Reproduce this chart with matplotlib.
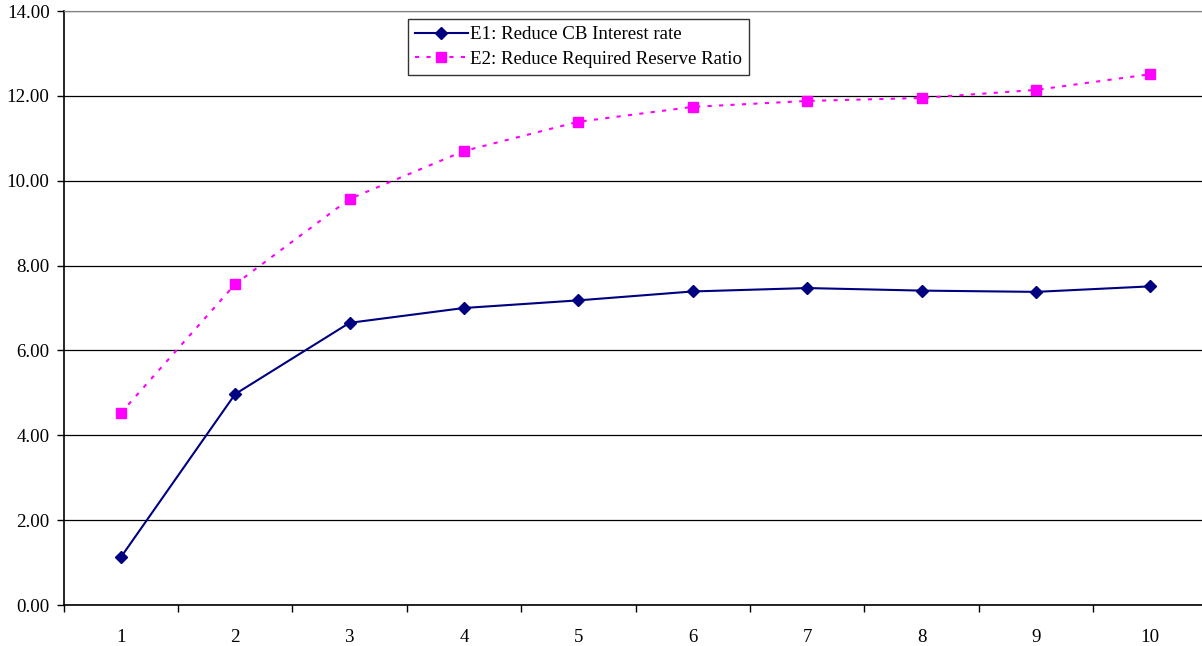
import matplotlib.pyplot as plt
import numpy as np

plt.rcParams['font.family'] = ['Liberation Serif', 'DejaVu Serif']

# Data
periods = [1, 2, 3, 4, 5, 6, 7, 8, 9, 10]
e1_values = [1.12, 4.97, 6.65, 7.00, 7.18, 7.39, 7.47, 7.41, 7.38, 7.51]
e2_values = [4.52, 7.56, 9.57, 10.70, 11.39, 11.74, 11.88, 11.95, 12.14, 12.51]
e1_label = 'E1: Reduce CB Interest rate'
e2_label = 'E2: Reduce Required Reserve Ratio'

fs = 13.6

fig = plt.figure(figsize=(12.02, 6.46), dpi=100)
# plot area runs a little past the right edge of the canvas
ax = fig.add_axes([63.5 / 1202, 1 - 605 / 646, 1144 / 1202, 594 / 646])

ax.plot(periods, e1_values, color='#000080', lw=1.5, marker='D', ms=6.5,
        label=e1_label, zorder=3)
ax.plot(periods, e2_values, color='#FF00FF', lw=1.5, ls=(0, (2, 3.5)),
        marker='s', ms=7.5, label=e2_label, zorder=3)

ax.set_xlim(0.5, 10.5)
ax.set_ylim(0, 14)
ax.set_yticks(np.arange(0, 14.1, 2))
ax.set_yticklabels([f'{v:.2f}' for v in np.arange(0, 14.1, 2)], fontsize=fs)
ax.set_xticks(periods)
ax.set_xticklabels([str(p) for p in periods], fontsize=fs)
ax.set_xticks(np.arange(0.5, 10.6, 1), minor=True)
ax.tick_params(axis='x', which='major', length=0, pad=17)
ax.tick_params(axis='x', which='minor', length=5, width=1, color='black')
ax.tick_params(axis='y', length=5, width=1, pad=5)

ax.grid(axis='y', color='black', lw=0.9)
ax.set_axisbelow(True)
ax.spines['right'].set_visible(False)
ax.spines['top'].set_color('#808080')
ax.spines['left'].set_linewidth(1.2)
ax.spines['bottom'].set_linewidth(1.2)

leg = ax.legend(loc='upper left', bbox_to_anchor=((408 - 63.5) / 1144, 1 - 8.5 / 594),
                fontsize=fs, frameon=True, fancybox=False, edgecolor='black',
                borderpad=0.35, labelspacing=0.4, handlelength=2.8, handletextpad=0.15,
                borderaxespad=0)
leg.get_frame().set_linewidth(1.0)

fig.savefig('out.png', dpi=100)
